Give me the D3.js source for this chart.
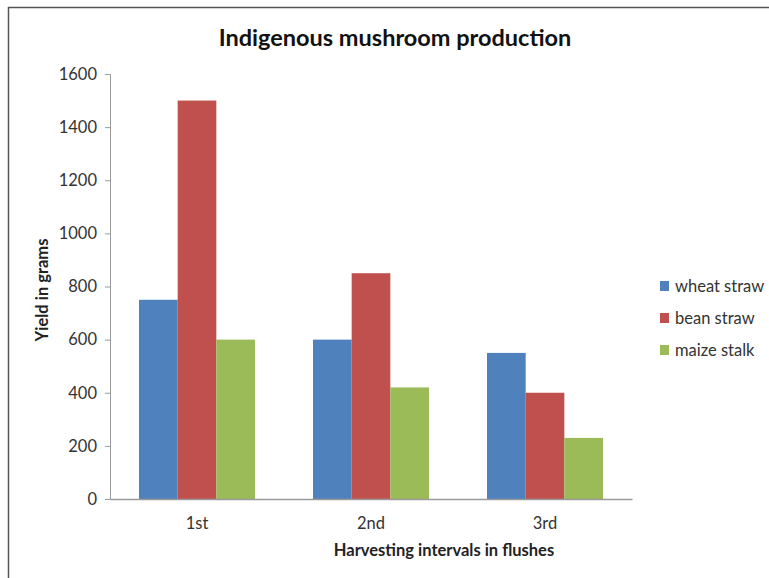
<!DOCTYPE html>
<html><head><meta charset="utf-8">
<script src="https://cdn.jsdelivr.net/npm/d3@7"></script>
<style>html,body{margin:0;padding:0;background:#fff;}svg{display:block;font-family:Lato,"Open Sans",sans-serif;}</style>
</head><body>
<script>
const categories = ["1st", "2nd", "3rd"];
const seriesNames = ["wheat straw", "bean straw", "maize stalk"];
const wheatStraw = [750, 600, 550];
const beanStraw = [1500, 850, 400];
const maizeStalk = [600, 420, 230];
const yTicks = [0, 200, 400, 600, 800, 1000, 1200, 1400, 1600];
const colors = ["#4F81BD", "#C0504D", "#9BBB59"];
const seriesValues = [wheatStraw, beanStraw, maizeStalk];

const W = 769, H = 578;
const svg = d3.select("body").append("svg").attr("width", W).attr("height", H);
svg.append("rect").attr("x", 0).attr("y", 0).attr("width", W).attr("height", H).attr("fill", "#fff");
// frame
svg.append("path").attr("d", `M8.5,${H} L8.5,7.5 L${W},7.5`).attr("fill", "none").attr("stroke", "#555").attr("stroke-width", 1.5);

const plot = {left: 110, right: 632, top: 74, bottom: 499};
const y = d3.scaleLinear().domain([0, 1600]).range([plot.bottom, plot.top]);
const x0 = d3.scaleBand().domain(categories).range([plot.left, plot.right]).paddingInner(1/3).paddingOuter(1/6);
const x1 = d3.scaleBand().domain(seriesNames).range([0, x0.bandwidth()]);

const FS = "16.5px";
// y axis
const yAxis = d3.axisLeft(y).tickValues(yTicks).tickFormat(d3.format("d")).tickSize(5).tickPadding(8);
const gy = svg.append("g").attr("transform", `translate(${plot.left},0)`).call(yAxis);
gy.select(".domain").attr("stroke", "#9a9a9a");
gy.selectAll(".tick line").attr("stroke", "#9a9a9a");
gy.selectAll(".tick text").attr("fill", "#333").style("font-size", FS).style("font-family", "Lato, sans-serif");

// bars
const rows = categories.map((c, i) => ({cat: c, vals: seriesNames.map((s, j) => ({s, v: seriesValues[j][i], c: colors[j]}))}));
const g = svg.append("g");
g.selectAll("g").data(rows).join("g")
  .attr("transform", d => `translate(${x0(d.cat)},0)`)
  .selectAll("rect").data(d => d.vals).join("rect")
  .attr("x", d => x1(d.s)).attr("width", x1.bandwidth())
  .attr("y", d => y(d.v)).attr("height", d => y(0) - y(d.v))
  .attr("fill", d => d.c);

// x axis
const xAxis = d3.axisBottom(x0).tickSize(0).tickPadding(18);
const gx = svg.append("g").attr("transform", `translate(0,${plot.bottom})`).call(xAxis);
gx.select(".domain").attr("stroke", "#9a9a9a").attr("stroke-width", 1.5);
gx.selectAll(".tick text").attr("fill", "#333").style("font-size", FS).style("font-family", "Lato, sans-serif");

// titles
svg.append("text").attr("x", 395).attr("y", 46).attr("text-anchor", "middle")
  .style("font-size", "23.5px").style("font-weight", "bold").attr("fill", "#111").text("Indigenous mushroom production");
svg.append("text").attr("x", 444).attr("y", 556).attr("text-anchor", "middle")
  .style("font-size", FS).style("font-weight", "bold").attr("fill", "#222").text("Harvesting intervals in flushes");
svg.append("text").attr("transform", "translate(48,290) rotate(-90)").attr("text-anchor", "middle")
  .style("font-size", FS).style("font-weight", "bold").attr("fill", "#222").text("Yield in grams");

// legend
const lg = svg.append("g").attr("transform", "translate(660,281)");
seriesNames.forEach((s, i) => {
  const row = lg.append("g").attr("transform", `translate(0,${i * 32})`);
  row.append("rect").attr("width", 9).attr("height", 10).attr("fill", colors[i]);
  row.append("text").attr("x", 15).attr("y", 11).style("font-size", FS).attr("fill", "#333").text(s);
});
</script>
</body></html>
